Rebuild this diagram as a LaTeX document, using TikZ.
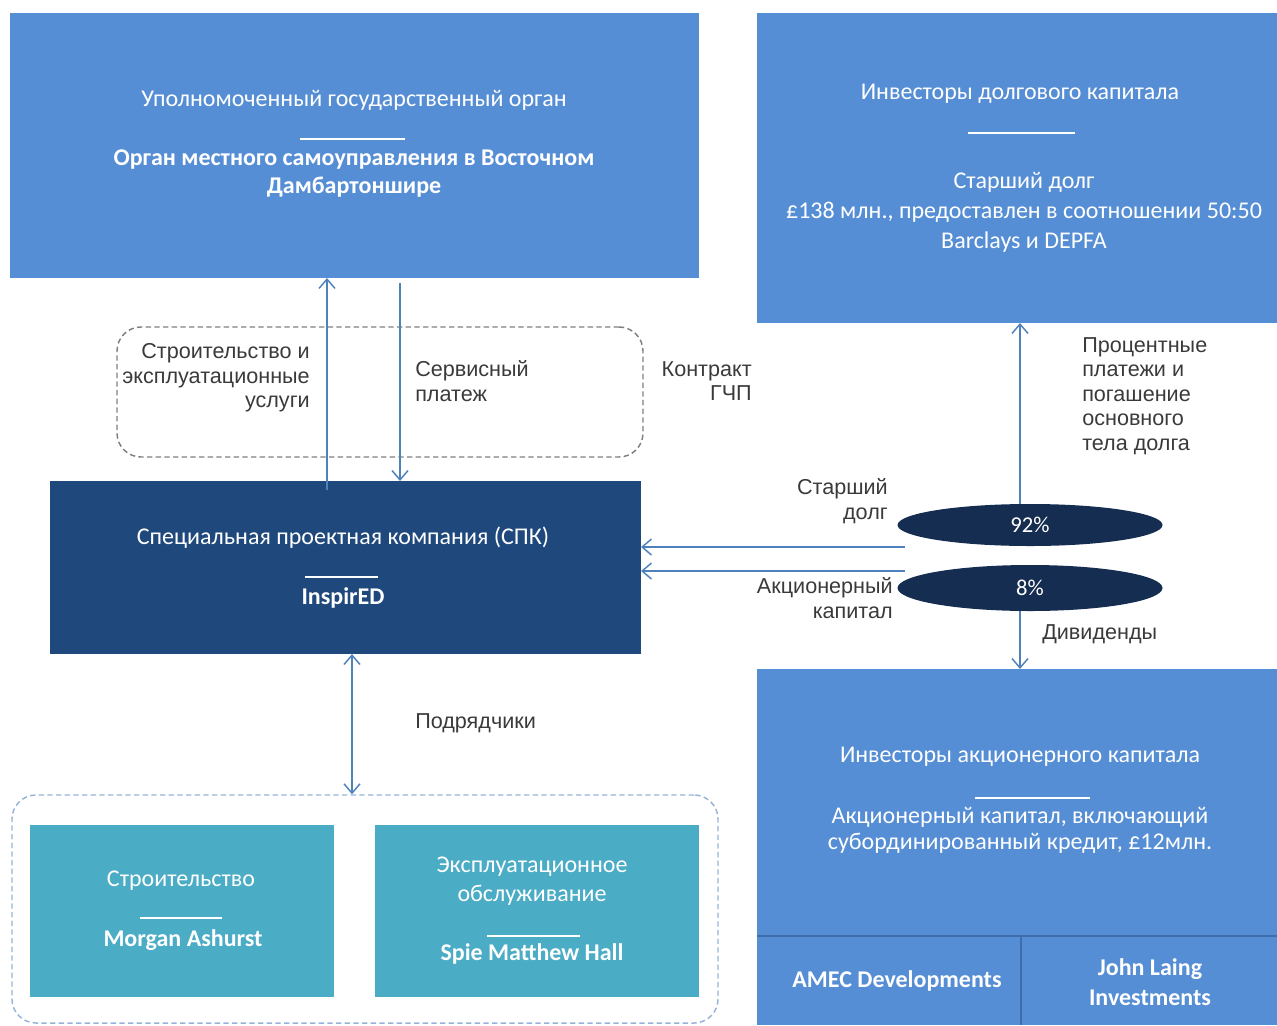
\documentclass[tikz,border=0pt]{standalone}
\usepackage{fontspec}
\setmainfont{Carlito}
\newfontfamily\lblfont{Liberation Sans}
\usetikzlibrary{arrows.meta,shapes.geometric,fit}
\definecolor{boxblue}{HTML}{558ED5}
\definecolor{spvblue}{HTML}{1F497D}
\definecolor{navy}{HTML}{142D50}
\definecolor{teal}{HTML}{4BACC6}
\definecolor{linkblue}{HTML}{4F81BD}
\definecolor{divblue}{HTML}{3E6DAE}
\definecolor{lbl}{HTML}{3A3A3A}
\definecolor{dashgray}{HTML}{7F7F7F}
\definecolor{dashblue}{HTML}{95B3D7}
\begin{document}
\begin{tikzpicture}[x=0.75pt,y=-0.75pt,
  box/.style={inner sep=0pt, outer sep=0pt, fill=boxblue, draw=none},
  boxtxt/.style={text=white, align=center, font=\fontsize{18}{21}\selectfont},
  boxbold/.style={text=white, align=center, font=\fontsize{18}{21}\selectfont\bfseries},
  sep/.style={draw=white, line width=1.5pt},
  link/.style={draw=linkblue, line width=1.1pt},
  arr/.style={link, -{Straight Barb[length=7pt,width=12pt]}},
  biarr/.style={link, {Straight Barb[length=7pt,width=12pt]}-{Straight Barb[length=7pt,width=12pt]}},
  lab/.style={text=lbl, font=\lblfont\fontsize{16.2}{18.4}\selectfont, inner sep=0pt},
  frame/.style={dash pattern=on 4pt off 2.5pt, line width=1.1pt, rounded corners=18pt, inner sep=0pt},
  oval/.style={ellipse, fill=navy, draw=none, text=white, font=\fontsize{17}{18}\selectfont, minimum width=198.75pt, inner sep=0pt}
]
\useasboundingbox (0,0) rectangle (1277,1025);

% ---------- boxes ----------
\node[box, fit={(10,13) (699,278)}] (gov) {};
\node[boxtxt] (govt) at (354,100) {Уполномоченный государственный орган};
\draw[sep] (300,139) -- (405,139);
\node[boxbold] (govb) at (354,174) {Орган местного самоуправления в Восточном\\Дамбартоншире};

\node[box, fit={(757,13) (1277,323)}] (debt) {};
\node[boxtxt] (debtt) at (1020,94) {Инвесторы долгового капитала};
\draw[sep] (968,133) -- (1075,133);
\node[boxtxt, font=\fontsize{18}{22.5}\selectfont] (debtb) at (1024,212) {Старший долг\\£138 млн.,\ предоставлен в соотношении 50:50\\Barclays и DEPFA};

\node[box, fill=spvblue, fit={(50,481) (641,654)}] (spv) {};
\node[boxtxt] (spvt) at (343,538) {Специальная проектная компания (СПК)};
\draw[sep] (305,577) -- (378,577);
\node[boxbold] (spvb) at (343,598) {InspirED};

\node[box, fit={(757,669) (1277,1025)}] (eq) {};
\draw[divblue, line width=1.2pt] (757,936) -- (1277,936);
\draw[divblue, line width=1.2pt] (1021,936) -- (1021,1025);
\node[boxtxt] (eqt) at (1020,757) {Инвесторы акционерного капитала};
\draw[sep] (975,798) -- (1090,798);
\node[boxtxt, font=\fontsize{18}{19.5}\selectfont] (eqb) at (1020,830) {Акционерный капитал, включающий\\субординированный кредит, £12млн.};
\node[boxbold] (amec) at (897,981) {AMEC Developments};
\node[boxbold, font=\fontsize{18}{22.5}\selectfont\bfseries] (jli) at (1150,982) {John Laing\\Investments};

% ---------- contractors ----------
\node[frame, draw=dashblue, fit={(12,795) (718,1023)}] (grp) {};
\node[box, fill=teal, fit={(30,825) (334,997)}] (con) {};
\node[boxtxt] (cont) at (181,881) {Строительство};
\draw[sep] (140,918) -- (222,918);
\node[boxbold] (conb) at (183,940) {Morgan Ashurst};
\node[box, fill=teal, fit={(375,825) (699,997)}] (ops) {};
\node[boxtxt, font=\fontsize{18}{22}\selectfont] (opst) at (532,881) {Эксплуатационное\\обслуживание};
\draw[sep] (487,936) -- (580,936);
\node[boxbold] (opsb) at (532,954) {Spie Matthew Hall};

% ---------- PPP contract frame ----------
\node[frame, draw=dashgray, fit={(117,327) (643,457)}] (ppp) {};

% ---------- ovals ----------
\node[oval, minimum height=31.5pt] (e92) at (1030,525) {92\%};
\node[oval, minimum height=34.5pt] (e8) at (1030,588) {8\%};

% ---------- connectors ----------
\coordinate (xa) at (327,490);
\coordinate (xb) at (400,283);
\coordinate (xc) at (352,0);
\coordinate (xr) at (1020,0);
\coordinate (h1) at (905,547);
\coordinate (h2) at (905,571);
\draw[arr] (xa) -- (gov.south -| xa);
\draw[arr] (xb) -- (spv.north -| xb);
\draw[biarr] (spv.south -| xc) -- (grp.north -| xc);
\draw[arr] (e92.north -| xr) -- (debt.south -| xr);
\draw[arr] (e8.south -| xr) -- (eq.north -| xr);
\draw[arr] (h1) -- (spv.east |- h1);
\draw[arr] (h2) -- (spv.east |- h2);

% ---------- labels ----------
\node[lab, align=right, anchor=east] (l1) at (310,378) {Строительство и\\эксплуатационные\\услуги};
\node[lab, align=left, anchor=west] (l2) at (415,381) {Сервисный\\платеж};
\node[lab, align=right, anchor=east] (l3) at (752,381) {Контракт\\ГЧП};
\node[lab, align=left, anchor=west] (l4) at (1082,396) {Процентные\\платежи и\\погашение\\основного\\тела долга};
\node[lab, align=right, anchor=east] (l5) at (888,501) {Старший\\долг};
\node[lab, align=right, anchor=east] (l6) at (893,598) {Акционерный\\капитал};
\node[lab, anchor=west] (l7) at (1042,634) {Дивиденды};
\node[lab, anchor=west] (l8) at (415,723) {Подрядчики};
\end{tikzpicture}
\end{document}
